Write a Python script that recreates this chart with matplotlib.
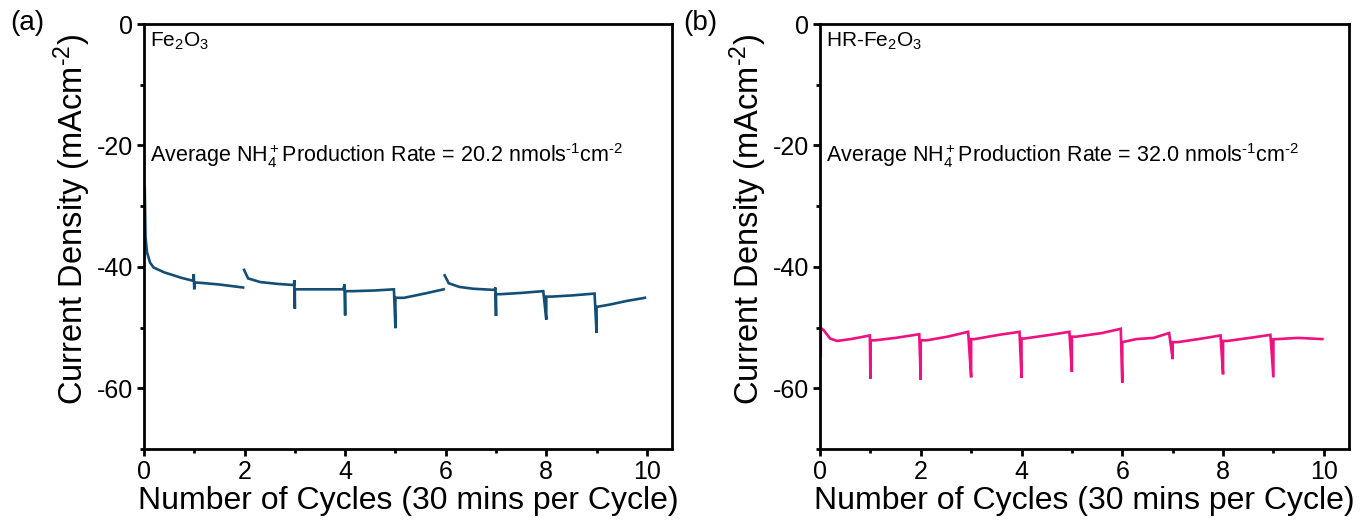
import numpy as np
import matplotlib
matplotlib.use("Agg")
import matplotlib.pyplot as plt
from matplotlib.ticker import MultipleLocator

plt.rcParams['font.family'] = ['Liberation Sans', 'DejaVu Sans']
plt.rcParams['mathtext.fontset'] = 'custom'
plt.rcParams['mathtext.rm'] = 'Liberation Sans'
plt.rcParams['mathtext.it'] = 'Liberation Sans:italic'
plt.rcParams['mathtext.bf'] = 'Liberation Sans:bold'
plt.rcParams['axes.unicode_minus'] = False

nan = np.nan

# Panel (a): Fe2O3 chronoamperometry, cycles (x) vs current density (mA cm-2)
a_cycle = [0.015, 0.03, 0.06, 0.12, 0.19, 0.40, 0.74, 0.98, 0.99, 1.0, 1.0, 1.08, 1.49, 1.97,
           nan,
           1.99, 2.07, 2.31, 2.65, 2.98, 2.99, 3.0, 3.0, 3.13, 3.54, 3.96, 3.99, 4.0, 4.0, 4.15, 4.57, 4.97,
           5.0, 5.0, 5.17, 5.58, 5.96,
           nan,
           5.98, 6.06, 6.27, 6.54, 6.97, 6.99, 7.0, 7.0, 7.09, 7.49, 7.94, 8.0, 8.0, 8.11, 8.52, 8.96,
           9.0, 9.0, 9.27, 9.61, 9.96]
a_current = [-27.0, -35.0, -37.6, -39.3, -40.1, -40.9, -41.8, -42.3, -41.2, -43.7, -42.6, -42.6, -42.9, -43.4,
             nan,
             -40.5, -41.9, -42.5, -42.8, -43.0, -42.2, -46.9, -43.7, -43.7, -43.7, -43.7, -42.9, -48.0, -44.0, -44.0, -43.9, -43.7,
             -50.1, -45.1, -45.1, -44.4, -43.7,
             nan,
             -41.4, -42.7, -43.3, -43.6, -43.8, -43.4, -48.1, -44.5, -44.5, -44.3, -44.0, -48.7, -44.9, -44.9, -44.7, -44.4,
             -50.9, -46.6, -46.2, -45.6, -45.1]

# Panel (b): HR-Fe2O3
b_cycle = [0.015, 0.015, 0.02, 0.07, 0.2, 0.34, 0.61, 0.99,
           1.0, 1.0, 1.09, 1.5, 1.97,
           2.0, 2.0, 2.12, 2.53, 2.94,
           3.0, 3.0, 3.07, 3.55, 3.96,
           4.0, 4.0, 4.06, 4.57, 4.95,
           5.0, 5.0, 5.09, 5.6, 5.97,
           6.0, 6.0, 6.28, 6.62, 6.93,
           7.0, 7.0, 7.1, 7.51, 7.95,
           8.0, 8.0, 8.09, 8.53, 8.94,
           9.0, 9.0, 9.08, 9.49, 9.97]
b_current = [-54.6, -50.1, -50.1, -50.4, -51.8, -52.2, -51.9, -51.3,
             -58.4, -52.1, -52.1, -51.7, -51.1,
             -58.6, -52.1, -52.1, -51.5, -50.7,
             -58.2, -51.9, -51.9, -51.2, -50.7,
             -58.3, -51.8, -51.8, -51.2, -50.7,
             -57.3, -51.5, -51.5, -50.9, -50.2,
             -59.1, -52.4, -51.9, -51.7, -50.9,
             -55.2, -52.4, -52.4, -51.9, -51.3,
             -57.7, -52.2, -52.2, -51.7, -51.2,
             -58.2, -51.9, -51.9, -51.7, -51.9]

a_label = r'Fe$_2$O$_3$'
b_label = r'HR-Fe$_2$O$_3$'
a_rate = r'Average NH$_4^+$Production Rate = 20.2 nmols$^{\text{-1}}$cm$^{\text{-2}}$'
b_rate = r'Average NH$_4^+$Production Rate = 32.0 nmols$^{\text{-1}}$cm$^{\text{-2}}$'
xlabel = 'Number of Cycles (30 mins per Cycle)'
ylabel = r'Current Density (mAcm$^{\text{-2}}$)'

fig = plt.figure(figsize=(13.6, 5.22), dpi=100)
ax1 = fig.add_axes([144/1360, 1-449/522, 528/1360, 425/522])
ax2 = fig.add_axes([820/1360, 1-449/522, 529/1360, 425/522])

panels = [(ax1, a_cycle, a_current, '#134F75', a_label, a_rate, '(a)', 10/1360),
          (ax2, b_cycle, b_current, '#EE1180', b_label, b_rate, '(b)', 683/1360)]

for ax, xs, ys, col, lab, rate, plab, px in panels:
    ax.plot(xs, ys, color=col, lw=1.9, solid_joinstyle='miter')
    ax.set_xlim(0, 10.5)
    ax.set_ylim(-70, 0)
    ax.xaxis.set_major_locator(MultipleLocator(2))
    ax.xaxis.set_minor_locator(MultipleLocator(1))
    ax.yaxis.set_major_locator(MultipleLocator(20))
    ax.yaxis.set_minor_locator(MultipleLocator(10))
    ax.tick_params(which='major', direction='out', length=5, width=2, labelsize=18, pad=3)
    ax.tick_params(which='minor', direction='out', length=3, width=2)
    for s in ax.spines.values():
        s.set_linewidth(2)
    ax.set_xlabel(xlabel, fontsize=23, labelpad=1)
    ax.set_ylabel(ylabel, fontsize=23.5)
    ax.yaxis.set_label_coords(-0.097, 0.54)
    ax.text(0.012, 0.985, lab, transform=ax.transAxes, fontsize=15, va='top', ha='left')
    ax.text(0.012, 0.69, rate, transform=ax.transAxes, fontsize=15.5, va='center', ha='left')
    fig.text(px, 0.955, plab, fontsize=20, va='center', ha='left')

fig.savefig('out.png', dpi=100)
